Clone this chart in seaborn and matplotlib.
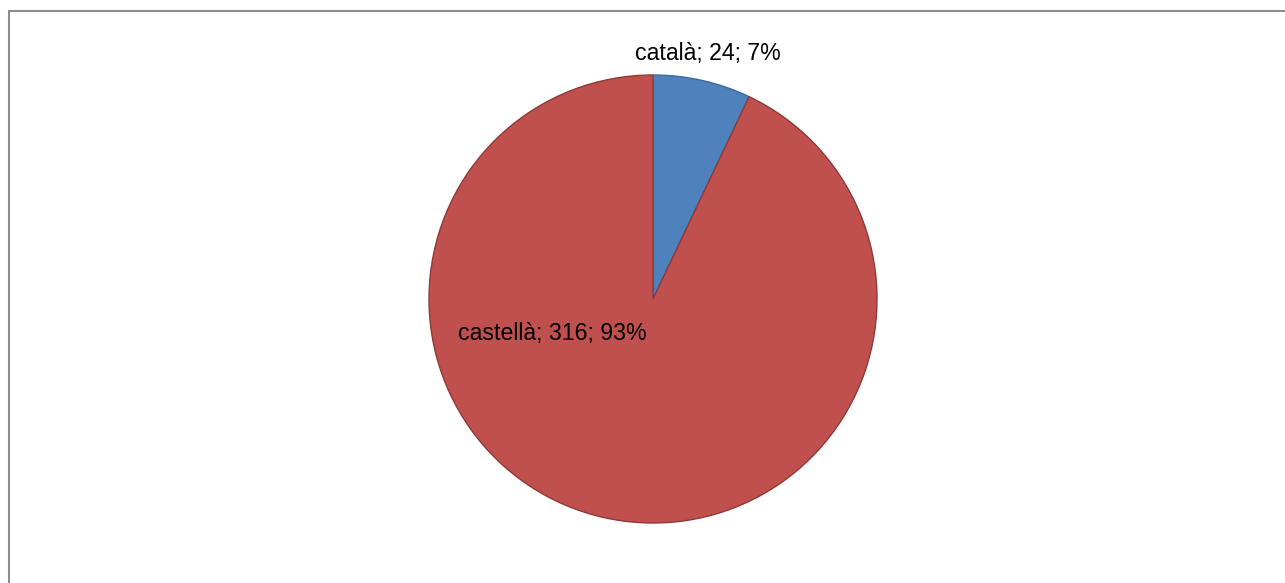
import matplotlib.pyplot as plt
import seaborn as sns
from matplotlib.patches import Rectangle

# data
languages = ["català", "castellà"]
counts = [24, 316]
colors = ["#4F81BD", "#C0504D"]
edges = ["#3B6A9F", "#8E3A38"]

sns.set_style("white")
plt.rcParams['font.family'] = ['Liberation Sans', 'DejaVu Sans']

fig = plt.figure(figsize=(12.85, 5.83), dpi=100)

# gray frame (only top/left visible in the crop)
fig.patches.append(Rectangle((8.5 / 1285, -0.1), 1.2, (583 - 11.5) / 583 + 0.1,
                             transform=fig.transFigure, fill=False,
                             edgecolor="#8c8c8c", linewidth=1.5))

ax = fig.add_axes([(653 - 224) / 1285, (583 - 299 - 224) / 583, 448 / 1285, 448 / 583])
wedges, _ = ax.pie(counts, colors=colors, startangle=90, counterclock=False,
                   radius=1, wedgeprops=dict(linewidth=1.0))
for w, ec in zip(wedges, edges):
    w.set_edgecolor(ec)
ax.set_xlim(-1, 1)
ax.set_ylim(-1, 1)
ax.axis("off")

total = sum(counts)
pct = [round(100 * c / total) for c in counts]
label_pos = [(0.246, 1.095), (-0.451, -0.152)]
for name, c, p, (x, y) in zip(languages, counts, pct, label_pos):
    ax.text(x, y, f"{name}; {c}; {p}%", ha="center", va="center",
            fontsize=16.7, color="black", clip_on=False)

fig.savefig("out.png", dpi=100)
